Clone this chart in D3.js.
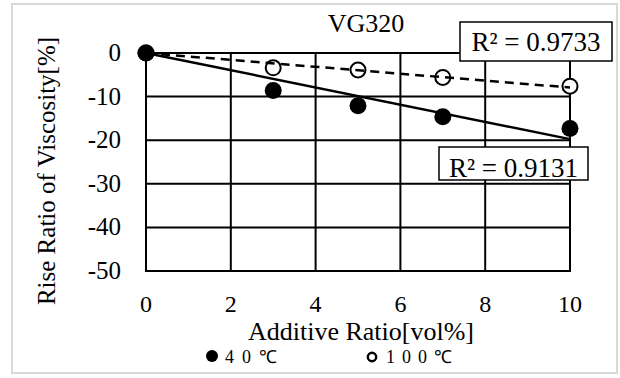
<!DOCTYPE html>
<html>
<head>
<meta charset="utf-8">
<script src="https://cdn.jsdelivr.net/npm/d3@7"></script>
<style>
  body { margin: 0; background: #fff; }
  text { font-family: "Liberation Serif", "Times New Roman", serif; fill: #000; }
</style>
</head>
<body>
<svg width="620" height="378"></svg>
<script>
const ratio = [0, 3, 5, 7, 10]
const visc40 = [0, -8.6, -12.1, -14.6, -17.3]
const visc100 = [0, -3.4, -3.9, -5.6, -7.6]
const xTicks = [0, 2, 4, 6, 8, 10]
const yTicks = [0, -10, -20, -30, -40, -50]
const r2_40 = 'R² = 0.9131'
const r2_100 = 'R² = 0.9733'

const plot = { left: 146, right: 570, top: 53, bottom: 271 }

const svg = d3.select('svg')

svg.append('rect')
  .attr('x', 12).attr('y', 4)
  .attr('width', 605).attr('height', 369)
  .attr('fill', '#fff')
  .attr('stroke', '#d9d9d9')
  .attr('stroke-width', 2)

const xScale = d3.scaleLinear().domain([0, 10]).range([plot.left, plot.right])
const yScale = d3.scaleLinear().domain([-50, 0]).range([plot.bottom, plot.top])

// grid
svg.append('g')
  .selectAll('line')
  .data(yTicks)
  .enter()
  .append('line')
  .attr('x1', plot.left - 1).attr('x2', plot.right + 1)
  .attr('y1', d => yScale(d)).attr('y2', d => yScale(d))
  .attr('stroke', '#000').attr('stroke-width', 2)

svg.append('g')
  .selectAll('line')
  .data(xTicks)
  .enter()
  .append('line')
  .attr('y1', plot.top).attr('y2', plot.bottom)
  .attr('x1', d => xScale(d)).attr('x2', d => xScale(d))
  .attr('stroke', '#000').attr('stroke-width', 2)

// tick labels
svg.append('g')
  .selectAll('text')
  .data(yTicks)
  .enter()
  .append('text')
  .attr('x', plot.left - 25)
  .attr('y', d => yScale(d) + 8)
  .attr('text-anchor', 'end')
  .style('font-size', '25px')
  .text(d => d)

svg.append('g')
  .selectAll('text')
  .data(xTicks)
  .enter()
  .append('text')
  .attr('x', d => xScale(d))
  .attr('y', 312)
  .attr('text-anchor', 'middle')
  .style('font-size', '24px')
  .text(d => d)

// trendlines, forced through origin
function slope(xs, ys) {
  const sxy = d3.sum(xs, (x, i) => x * ys[i])
  const sxx = d3.sum(xs, x => x * x)
  return sxy / sxx
}
const k40 = slope(ratio, visc40)
const k100 = slope(ratio, visc100)
const line = d3.line().x(d => xScale(d[0])).y(d => yScale(d[1]))

// markers
svg.append('g')
  .selectAll('circle')
  .data(ratio)
  .enter()
  .append('circle')
  .attr('cx', d => xScale(d))
  .attr('cy', (d, i) => yScale(visc100[i]))
  .attr('r', 7.5)
  .attr('fill', '#fff')
  .attr('stroke', '#000')
  .attr('stroke-width', 2)

svg.append('g')
  .selectAll('circle')
  .data(ratio)
  .enter()
  .append('circle')
  .attr('cx', d => xScale(d))
  .attr('cy', (d, i) => yScale(visc40[i]))
  .attr('r', 8.5)
  .attr('fill', '#000')

svg.append('path')
  .attr('d', line([[0, 0], [10, 10 * k100]]))
  .attr('fill', 'none')
  .attr('stroke', '#000')
  .attr('stroke-width', 2.5)
  .attr('stroke-dasharray', '9,6')

svg.append('path')
  .attr('d', line([[0, 0], [10, 10 * k40]]))
  .attr('fill', 'none')
  .attr('stroke', '#000')
  .attr('stroke-width', 2.5)

// R² boxes
function r2Box(x, y, w, h, base, txt) {
  svg.append('rect')
    .attr('x', x).attr('y', y).attr('width', w).attr('height', h)
    .attr('fill', '#fff').attr('stroke', '#000').attr('stroke-width', 1.5)
  svg.append('text')
    .attr('x', x + w / 2).attr('y', base)
    .attr('text-anchor', 'middle')
    .style('font-size', '27px')
    .text(txt)
}
r2Box(460, 22, 152, 39, 51, r2_100)
r2Box(439, 147, 149, 33, 177, r2_40)

// title and axis labels
svg.append('text')
  .attr('x', 366).attr('y', 32)
  .attr('text-anchor', 'middle')
  .style('font-size', '26px')
  .text('VG320')

svg.append('text')
  .attr('x', 361).attr('y', 340)
  .attr('text-anchor', 'middle')
  .style('font-size', '26px')
  .text('Additive Ratio[vol%]')

svg.append('text')
  .attr('transform', 'translate(55, 171) rotate(-90)')
  .attr('text-anchor', 'middle')
  .style('font-size', '25px')
  .text('Rise Ratio of Viscosity[%]')

// legend
svg.append('circle').attr('cx', 212).attr('cy', 356).attr('r', 6).attr('fill', '#000')
svg.append('text').attr('x', 225).attr('y', 363)
  .style('font-size', '18px').style('letter-spacing', '8px').text('40℃')
svg.append('circle').attr('cx', 372).attr('cy', 357).attr('r', 4.2)
  .attr('fill', '#fff').attr('stroke', '#000').attr('stroke-width', 2.4)
svg.append('text').attr('x', 386).attr('y', 363)
  .style('font-size', '18px').style('letter-spacing', '7px').text('100℃')
</script>
</body>
</html>
